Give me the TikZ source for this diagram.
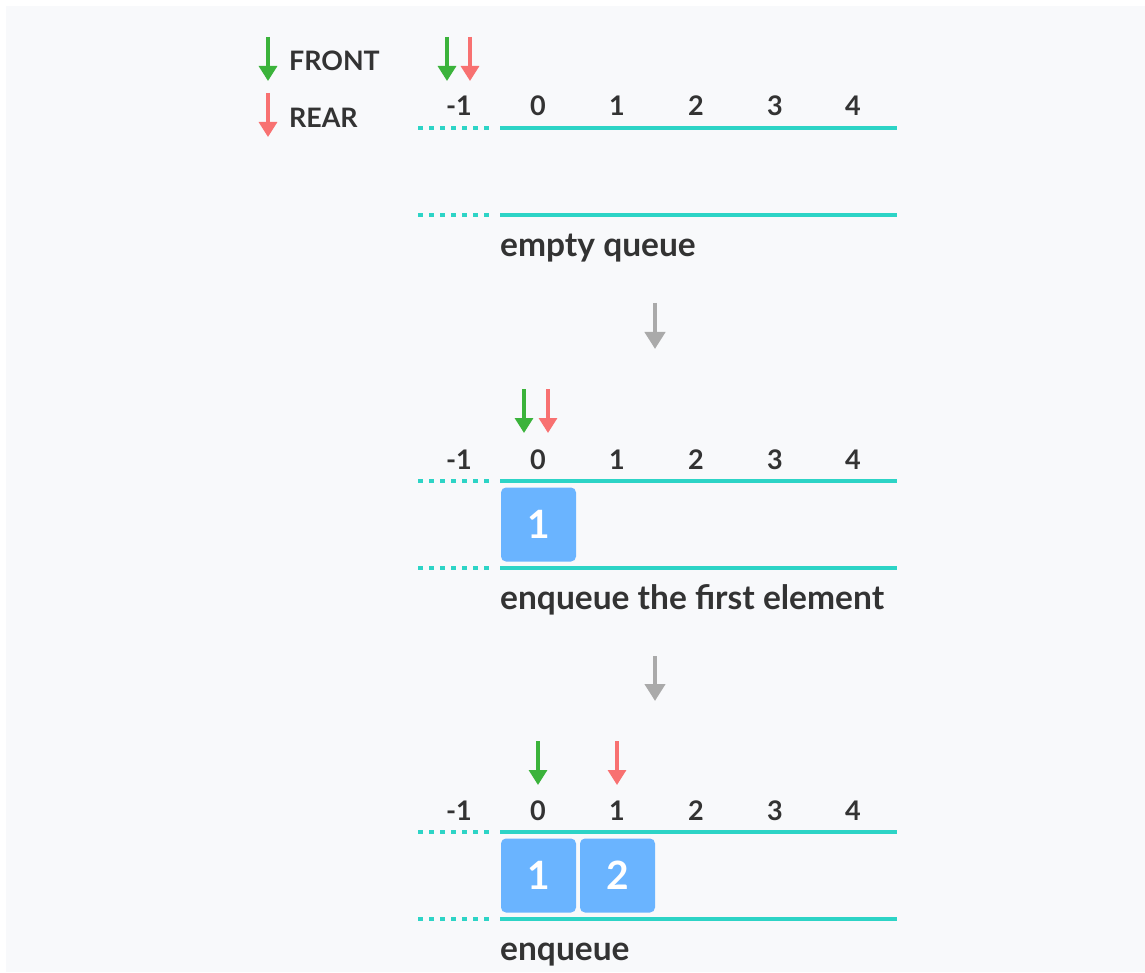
\documentclass[tikz,border=0pt]{standalone}
\usepackage{fontspec}
\setmainfont{Lato}[UprightFont=* Bold]
\usetikzlibrary{arrows.meta}
\definecolor{bgc}{HTML}{F8F9FB}
\definecolor{qteal}{HTML}{2DD4C6}
\definecolor{fgreen}{HTML}{3BB33B}
\definecolor{rred}{HTML}{F87171}
\definecolor{boxblue}{HTML}{6AB4FF}
\definecolor{txt}{HTML}{333333}
\definecolor{garrow}{HTML}{AAAAAA}
\tikzset{
  idx/.style={font=\fontsize{27}{29}\selectfont, text=txt, inner sep=0pt, anchor=base},
  captxt/.style={font=\fontsize{33.5}{36}\selectfont, text=txt, inner sep=0pt, anchor=base west},
  legtxt/.style={font=\fontsize{26.8}{29}\selectfont, text=txt, inner sep=0pt, anchor=base west},
  solidl/.style={draw=qteal, line width=3.8pt},
  dashl/.style={draw=qteal, line width=3.8pt, dash pattern=on 5pt off 6pt},
  ptr/.style={line width=3.2pt, -{Triangle[length=15pt,width=18pt]}},
  stepar/.style={line width=4.5pt, -{Triangle[length=17pt,width=20pt]}},
  cell/.style={fill=boxblue, rounded corners=5pt, minimum width=75pt, minimum height=74pt, inner sep=0pt, text=white, font=\fontsize{39}{41}\selectfont},
}
\begin{document}
\begin{tikzpicture}[x=1pt,y=-1pt]
\useasboundingbox (0,0) rectangle (1145,973);
\fill[white] (0,0) rectangle (1145,973);
\fill[bgc] (6,6) rectangle (1145,972);
% legend
\coordinate (lf1) at (268,37); \coordinate (lf2) at (268,81);
\draw[ptr,fgreen] (lf1) -- (lf2);
\node[legtxt] (lfront) at (289,71) {FRONT};
\coordinate (lr1) at (268,93); \coordinate (lr2) at (268,137);
\draw[ptr,rred] (lr1) -- (lr2);
\node[legtxt] (lrear) at (289,128) {REAR};
% queues
\foreach \q/\ty in {a/128, b/481, c/832}{
  \coordinate (\q dl) at (418,\ty);
  \coordinate (\q dr) at (494,\ty);
  \coordinate (\q sl) at (500,\ty);
  \coordinate (\q sr) at (897,\ty);
  \coordinate (\q bdl) at (418,\ty+87);
  \coordinate (\q bdr) at (494,\ty+87);
  \coordinate (\q bsl) at (500,\ty+87);
  \coordinate (\q bsr) at (897,\ty+87);
  \draw[dashl] (\q dl) -- (\q dr);
  \draw[solidl] (\q sl) -- (\q sr);
  \draw[dashl] (\q bdl) -- (\q bdr);
  \draw[solidl] (\q bsl) -- (\q bsr);
  \foreach \i/\x/\lab in {m/459/-1, 0/538/0, 1/617/1, 2/696/2, 3/775/3, 4/853/4}{
    \node[idx] (\q i\i) at (\x,\ty-12) {\lab};
  }
}
% captions
\node[captxt] (capa) at (500,257) {empty queue};
\node[captxt] (capb) at (500,609) {enqueue the first element};
\node[captxt] (capc) at (500,960) {enqueue};
% pointers
\coordinate (ag1) at (447,37); \coordinate (ag2) at (447,81);
\coordinate (ar1) at (470,37); \coordinate (ar2) at (470,81);
\draw[ptr,fgreen] (ag1) -- (ag2);
\draw[ptr,rred] (ar1) -- (ar2);
\coordinate (bg1) at (524,389); \coordinate (bg2) at (524,433);
\coordinate (br1) at (548,389); \coordinate (br2) at (548,433);
\draw[ptr,fgreen] (bg1) -- (bg2);
\draw[ptr,rred] (br1) -- (br2);
\coordinate (cg1) at (538,741); \coordinate (cg2) at (538,785);
\coordinate (cr1) at (617,741); \coordinate (cr2) at (617,785);
\draw[ptr,fgreen] (cg1) -- (cg2);
\draw[ptr,rred] (cr1) -- (cr2);
% gray step arrows
\coordinate (s1a) at (655,303); \coordinate (s1b) at (655,349);
\coordinate (s2a) at (655,656); \coordinate (s2b) at (655,701);
\draw[stepar,garrow] (s1a) -- (s1b);
\draw[stepar,garrow] (s2a) -- (s2b);
% cells
\node[cell] (b1) at (538.5,524.5) {1};
\node[cell] (c1) at (538.5,875.5) {1};
\node[cell] (c2) at (617.5,875.5) {2};
\end{tikzpicture}
\end{document}
